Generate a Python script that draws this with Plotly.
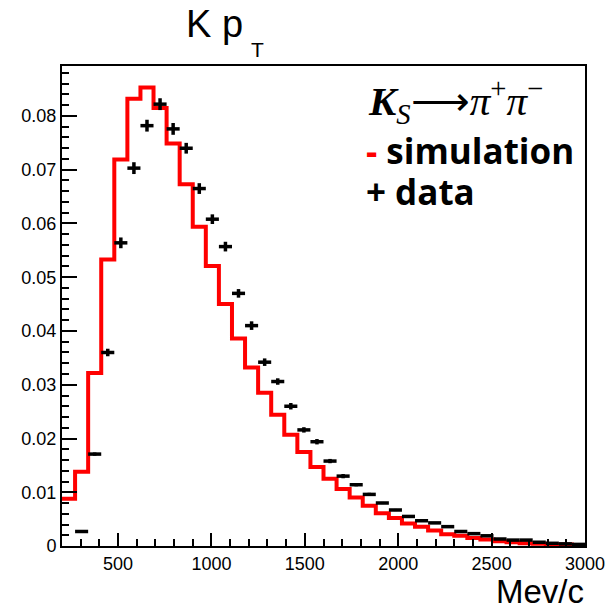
import numpy as np
import plotly.graph_objects as go

# ---- data ----
bin_low = 200.0
bin_width = 70.0
n_bins = 40

simulation = [0.0088, 0.0138, 0.0322, 0.0533, 0.0719, 0.0832, 0.0853, 0.0815, 0.0749, 0.0673,
              0.0594, 0.0521, 0.0450, 0.0386, 0.0332, 0.0285, 0.0244, 0.0207, 0.0175, 0.0147,
              0.0125, 0.0106, 0.0090, 0.0075, 0.0061, 0.0052, 0.0042, 0.0036, 0.0029, 0.0022,
              0.0019, 0.0015, 0.0012, 0.0009, 0.0007, 0.0005, 0.0004, 0.0003, 0.0003, 0.0002]

data_vals = [None, 0.0027, 0.0171, 0.0360, 0.0564, 0.0703, 0.0782, 0.0822, 0.0776, 0.0740,
             0.0665, 0.0608, 0.0557, 0.0470, 0.0410, 0.0342, 0.0306, 0.0260, 0.0216, 0.0194,
             0.0158, 0.0130, 0.0114, 0.0096, 0.0080, 0.0067, 0.0055, 0.0047, 0.0043, 0.0036,
             0.0027, 0.0023, 0.0019, 0.0013, 0.0011, 0.0011, 0.0007, 0.0005, 0.0004, 0.0003]

data_err = [0, 0.0001, 0.0003, 0.0007, 0.0010, 0.0011, 0.0011, 0.0011, 0.0011, 0.0010,
            0.0010, 0.0009, 0.0009, 0.0008, 0.0008, 0.0007, 0.0006, 0.0006, 0.0005, 0.0005,
            0.0004, 0.0004, 0.0003, 0.0003, 0.0002, 0.0002, 0.0002, 0.0002, 0.0001, 0.0001,
            0.0001, 0.0001, 0.0001, 0.0001, 0.0001, 0.0001, 0.0001, 0.0001, 0.0001, 0.0001]

x_ticks = [500, 1000, 1500, 2000, 2500, 3000]
y_ticks = [0, 0.01, 0.02, 0.03, 0.04, 0.05, 0.06, 0.07, 0.08]

edges = bin_low + bin_width * np.arange(n_bins + 1)
centers = 0.5 * (edges[:-1] + edges[1:])

fig = go.Figure()

fig.add_trace(go.Scatter(
    x=edges, y=simulation + [simulation[-1]],
    mode="lines", line=dict(color="#ff0000", width=4, shape="hv"),
    showlegend=False, hoverinfo="skip"))

fig.add_trace(go.Scatter(
    x=centers, y=data_vals, mode="markers",
    marker=dict(size=1, color="black"),
    error_x=dict(type="constant", value=bin_width / 2, width=0, thickness=3.5, color="black"),
    error_y=dict(type="data", array=data_err, width=0, thickness=3.5, color="black"),
    showlegend=False))

tickfont = dict(family="Liberation Sans, Arial, sans-serif", size=18, color="black")

fig.update_xaxes(range=[200, 3000], tickvals=x_ticks, ticktext=[str(v) for v in x_ticks],
                 automargin=False,
                 showgrid=False, zeroline=False, showline=True, linecolor="black", linewidth=2,
                 mirror=True, ticks="inside", ticklen=13, tickwidth=2, tickcolor="black",
                 tickfont=tickfont,
                 minor=dict(ticks="inside", ticklen=7, dtick=100, tick0=0, tickwidth=2,
                            tickcolor="black", showgrid=False))
fig.update_yaxes(range=[0, 0.0893], tickvals=y_ticks, ticktext=[("%g" % v) for v in y_ticks],
                 automargin=False,
                 showgrid=False, zeroline=False, showline=True, linecolor="black", linewidth=2,
                 mirror=True, ticks="inside", ticklen=15, tickwidth=2, tickcolor="black",
                 tickfont=tickfont,
                 minor=dict(ticks="inside", ticklen=7, dtick=0.002, tick0=0, tickwidth=2,
                            tickcolor="black", showgrid=False))

L, R, T, B = 62, 23, 66, 61
W, H = 608, 607
pw, ph = W - L - R, H - T - B

def px(x):
    return (x - L) / pw

def py(y):
    return (H - B - y) / ph

sans = "Liberation Sans, Arial, sans-serif"
annotations = [
    dict(text="K p", x=px(184), y=py(24), xanchor="left", yanchor="middle",
         font=dict(family=sans, size=38, color="black")),
    dict(text="T", x=px(249), y=py(50), xanchor="left", yanchor="middle",
         font=dict(family=sans, size=21, color="black")),
    dict(text="Mev/c", x=px(586), y=py(591), xanchor="right", yanchor="middle",
         font=dict(family=sans, size=33, color="black")),
    dict(text="<b><i>K</i></b><sub><i>S</i></sub>⟶<i>π</i><sup>+</sup><i>π</i><sup>−</sup>",
         x=px(366), y=py(101), xanchor="left", yanchor="middle",
         font=dict(family="Liberation Serif, Times New Roman, serif", size=41, color="black")),
    dict(text="<b><span style='color:#ff0000'>-</span> simulation</b>", x=px(364), y=py(150),
         xanchor="left", yanchor="middle",
         font=dict(family="Open Sans, sans-serif", size=35, color="black")),
    dict(text="<b>+ data</b>", x=px(364), y=py(191), xanchor="left", yanchor="middle",
         font=dict(family="Open Sans, sans-serif", size=35, color="black")),
]
for a in annotations:
    a.update(xref="paper", yref="paper", showarrow=False)

fig.update_layout(width=W, height=H, margin=dict(l=L, r=R, t=T, b=B, autoexpand=False),
                  paper_bgcolor="white", plot_bgcolor="white",
                  annotations=annotations, showlegend=False)

fig.write_html("out.html")
